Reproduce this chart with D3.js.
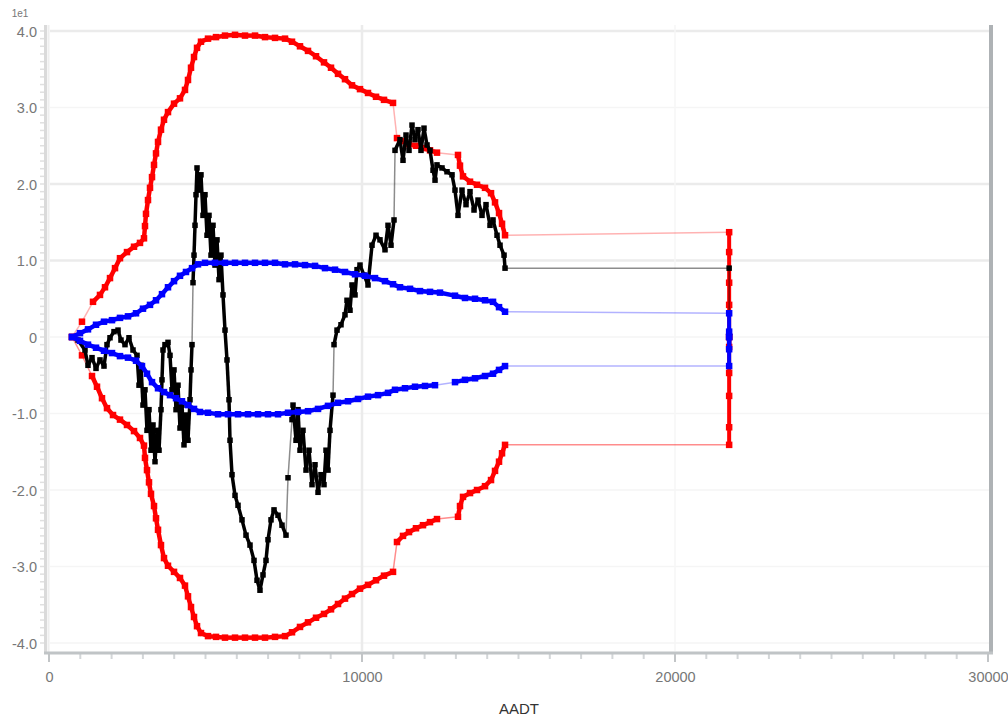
<!DOCTYPE html>
<html><head><meta charset="utf-8">
<script src="https://cdn.jsdelivr.net/npm/d3@7"></script>
<style>html,body{margin:0;padding:0;background:#fff;}svg{display:block;}</style>
</head><body>
<svg id="chart" width="1008" height="719"></svg>
<script>
// ---------- DATA (AADT, cumulative residual) ----------
const xTicks = [0, 10000, 20000, 30000];
const yTicks = [-4, -3, -2, -1, 0, 1, 2, 3, 4];
const yMultiplier = "1e1";
const xTitle = "AADT";

const redUpper = [[735,0],[1054,0.20],[1406,0.46],[1629,0.55],[1789,0.65],[1949,0.77],[2109,0.90],[2268,1.03],[2492,1.11],[2716,1.18],[2907,1.23],[3035,1.29],[3067,1.45],[3099,1.61],[3163,1.79],[3227,1.95],[3291,2.09],[3355,2.25],[3419,2.40],[3483,2.55],[3578,2.71],[3674,2.84],[3802,2.94],[3994,3.05],[4185,3.12],[4345,3.23],[4441,3.36],[4537,3.52],[4633,3.66],[4729,3.78],[4856,3.86],[5080,3.90],[5336,3.92],[5623,3.94],[5943,3.95],[6262,3.94],[6582,3.94],[6901,3.92],[7221,3.91],[7540,3.90],[7764,3.86],[8019,3.80],[8275,3.74],[8531,3.67],[8786,3.59],[9010,3.52],[9234,3.44],[9457,3.37],[9681,3.29],[9936,3.24],[10192,3.19],[10448,3.14],[10703,3.10],[10991,3.06],[11118,2.60],[11310,2.56],[11502,2.52],[11725,2.50],[11949,2.47],[12173,2.44],[12396,2.41],[13067,2.38],[13131,2.24],[13227,2.10],[13451,2.03],[13675,1.99],[13930,1.95],[14122,1.88],[14250,1.76],[14378,1.62],[14474,1.48],[14570,1.33],[21730,1.37],[21730,1.11],[21730,0.71],[21730,0.42],[21730,0]];

const redLower = [[735,0],[1054,-0.24],[1374,-0.51],[1534,-0.65],[1693,-0.80],[1853,-0.93],[2045,-1.02],[2268,-1.08],[2492,-1.15],[2716,-1.23],[2907,-1.32],[3035,-1.42],[3067,-1.58],[3131,-1.74],[3195,-1.90],[3259,-2.05],[3355,-2.21],[3419,-2.37],[3483,-2.52],[3578,-2.72],[3674,-2.89],[3802,-2.99],[3994,-3.07],[4185,-3.15],[4345,-3.25],[4441,-3.39],[4537,-3.53],[4633,-3.66],[4729,-3.78],[4856,-3.87],[5080,-3.91],[5336,-3.92],[5623,-3.93],[5943,-3.93],[6262,-3.93],[6582,-3.93],[6901,-3.93],[7221,-3.92],[7540,-3.91],[7764,-3.86],[8019,-3.79],[8275,-3.73],[8531,-3.67],[8786,-3.62],[9010,-3.56],[9234,-3.49],[9457,-3.42],[9681,-3.36],[9936,-3.29],[10192,-3.24],[10448,-3.18],[10703,-3.12],[10991,-3.07],[11118,-2.68],[11310,-2.60],[11502,-2.55],[11725,-2.50],[11949,-2.46],[12173,-2.42],[12396,-2.38],[13067,-2.35],[13131,-2.21],[13227,-2.09],[13451,-2.04],[13675,-2.00],[13930,-1.95],[14122,-1.87],[14250,-1.75],[14378,-1.63],[14474,-1.52],[14570,-1.41],[21730,-1.41],[21730,-1.18],[21730,-0.77],[21730,-0.47],[21730,-0.13],[21730,0]];

const blueUpper = [[735,0],[990,0.05],[1246,0.10],[1502,0.16],[1757,0.20],[2013,0.22],[2268,0.25],[2524,0.27],[2780,0.31],[3003,0.37],[3227,0.42],[3419,0.48],[3610,0.56],[3802,0.65],[3994,0.73],[4185,0.80],[4377,0.85],[4569,0.90],[4761,0.95],[4984,0.97],[5304,0.97],[5623,0.97],[5943,0.97],[6262,0.97],[6582,0.97],[6901,0.97],[7221,0.97],[7540,0.95],[7860,0.95],[8179,0.94],[8499,0.93],[8818,0.90],[9138,0.88],[9457,0.85],[9777,0.82],[10096,0.80],[10416,0.77],[10735,0.73],[10991,0.69],[11214,0.65],[11534,0.63],[11853,0.60],[12173,0.59],[12492,0.58],[12971,0.54],[13291,0.51],[13611,0.50],[13930,0.48],[14186,0.46],[14378,0.39],[14570,0.33],[21730,0.31],[21730,0.07],[21730,0]];

const blueLower = [[735,0],[990,-0.05],[1246,-0.10],[1502,-0.14],[1757,-0.18],[2013,-0.21],[2268,-0.25],[2524,-0.27],[2780,-0.31],[2971,-0.38],[3131,-0.48],[3291,-0.59],[3483,-0.67],[3674,-0.72],[3866,-0.76],[4058,-0.80],[4249,-0.84],[4441,-0.89],[4633,-0.94],[4824,-0.98],[5080,-0.99],[5400,-1.01],[5719,-1.01],[6039,-1.01],[6358,-1.01],[6678,-1.01],[6997,-1.01],[7317,-1.01],[7636,-0.99],[7956,-0.98],[8275,-0.97],[8595,-0.94],[8914,-0.90],[9234,-0.86],[9553,-0.84],[9873,-0.81],[10192,-0.78],[10512,-0.76],[10831,-0.73],[11055,-0.69],[11374,-0.67],[11693,-0.65],[12013,-0.64],[12332,-0.63],[12971,-0.59],[13291,-0.56],[13611,-0.54],[13930,-0.51],[14186,-0.48],[14378,-0.43],[14570,-0.38],[21730,-0.38],[21730,-0.16],[21730,0]];

const cumResidual = [[735,0],[927,-0.04],[1150,-0.17],[1246,-0.37],[1374,-0.27],[1502,-0.41],[1629,-0.30],[1757,-0.38],[1853,-0.10],[1949,-0.01],[2077,0.07],[2205,0.09],[2300,-0.04],[2428,-0.10],[2556,-0.01],[2684,-0.17],
[2812,-0.24],[2876,-0.63],[2939,-0.37],[3003,-0.89],[3067,-0.69],[3131,-1.22],[3195,-0.95],[3259,-1.48],[3323,-1.15],[3387,-1.63],[3451,-1.22],[3515,-1.48],[3578,-0.95],[3610,-0.56],[3642,-0.17],
[3706,-0.10],[3802,-0.07],[3866,-0.24],[3930,-0.69],[3994,-0.43],[4058,-0.95],[4122,-0.63],[4185,-1.19],[4249,-0.89],[4313,-1.41],[4377,-1.02],[4441,-1.35],[4505,-0.82],[4537,-0.43],[4569,-0.10],
[4601,0.71],[4633,1.07],[4665,1.46],[4697,1.86],[4729,2.21],[4793,1.92],[4856,2.12],[4920,1.59],[4984,1.86],[5048,1.33],[5112,1.59],[5176,1.07],[5240,1.46],[5304,0.94],[5368,1.27],[5432,0.75],[5495,1.07],[5559,0.55],[5623,0.09],[5687,-0.30],[5751,-0.82],[5783,-1.35],
[5847,-1.80],[5943,-2.07],[6039,-2.20],[6166,-2.39],[6294,-2.59],[6422,-2.72],[6550,-2.92],[6646,-3.18],[6741,-3.31],[6837,-3.11],[6933,-2.92],[6997,-2.65],[7093,-2.39],[7189,-2.26],[7317,-2.33],[7444,-2.46],[7572,-2.59],
[7636,-1.84],[7764,-1.08],[7796,-0.89],[7892,-1.35],[7956,-0.95],[8019,-1.48],[8115,-1.22],[8211,-1.74],[8307,-1.48],[8403,-1.93],[8499,-1.67],[8595,-2.03],[8690,-1.80],[8786,-1.93],[8850,-1.48],[8914,-1.74],[8978,-1.22],[9074,-0.76],
[9106,-0.10],[9202,0.09],[9329,0.16],[9457,0.29],[9521,0.48],[9617,0.35],[9681,0.68],[9777,0.55],[9841,0.88],[9936,0.94],[10064,0.81],[10192,0.68],[10320,1.20],[10448,1.33],[10575,1.27],[10735,1.14],[10831,1.46],[10927,1.20],[11023,1.53],
[11055,2.44],[11214,2.58],[11310,2.31],[11406,2.64],[11502,2.44],[11598,2.77],[11693,2.58],[11789,2.71],[11885,2.44],[11981,2.73],[12077,2.51],[12173,2.44],[12269,2.18],[12333,2.05],[12396,2.25],[12556,2.21],[12716,2.16],[12876,2.12],[12971,1.92],[13067,1.59],[13195,1.92],[13323,1.73],[13451,1.90],[13579,1.66],[13707,1.79],[13834,1.59],[13962,1.73],[14090,1.46],[14186,1.53],[14314,1.33],[14410,1.20],[14538,1.07],[14570,0.90],[21730,0.90],[21730,0]];

// ---------- DRAW ----------
const svg = d3.select("#chart");
const x = d3.scaleLinear().domain([0, 30000]).range([49, 988]);
const y = d3.scaleLinear().domain([-4, 4]).range([643, 31]);
const plotLeft = 44, plotRight = 991, plotTop = 25, plotBottom = 653;

// gridlines
const strongY = new Set([4, 2, 1]);
svg.append("g").selectAll("line").data(yTicks).join("line")
  .attr("x1", 50).attr("x2", plotRight - 2)
  .attr("y1", d => y(d)).attr("y2", d => y(d))
  .attr("stroke", d => strongY.has(d) ? "#ebebeb" : "#f5f5f5")
  .attr("stroke-width", d => strongY.has(d) ? 2.5 : 1.5);
svg.append("g").selectAll("line").data(xTicks.filter(d => d > 0 && d < 30000)).join("line")
  .attr("x1", d => x(d)).attr("x2", d => x(d))
  .attr("y1", plotTop).attr("y2", plotBottom - 2)
  .attr("stroke", d => d === 10000 ? "#ebebeb" : "#f6f6f6")
  .attr("stroke-width", d => d === 10000 ? 2.5 : 1.5);

// axes frame
svg.append("line").attr("x1", 45.5).attr("x2", 45.5).attr("y1", plotTop).attr("y2", plotBottom)
  .attr("stroke", "#dadada").attr("stroke-width", 3);
svg.append("line").attr("x1", 48.5).attr("x2", 48.5).attr("y1", plotTop).attr("y2", plotBottom)
  .attr("stroke", "#eeeeee").attr("stroke-width", 2);
svg.append("line").attr("x1", plotRight).attr("x2", plotRight).attr("y1", plotTop).attr("y2", plotBottom + 1)
  .attr("stroke", "#aeb2b5").attr("stroke-width", 4);

// x axis
const xAxis = d3.axisBottom(x).tickValues(xTicks).tickSize(0).tickPadding(0)
  .tickFormat(d3.format("d"));
const gx = svg.append("g").attr("transform", `translate(0,${plotBottom})`).call(xAxis);
gx.select(".domain").remove();
gx.selectAll("text").attr("y", 29).attr("dy", 0)
  .attr("font-family", "Liberation Sans, Arial, sans-serif").attr("font-size", 14.5)
  .attr("fill", "#777");
const xMinor = d3.range(0, 30001, 1000);
svg.append("g").selectAll("line").data(xMinor).join("line")
  .attr("x1", d => x(d)).attr("x2", d => x(d))
  .attr("y1", plotBottom).attr("y2", d => d % 10000 === 0 ? plotBottom + 9 : plotBottom + 6)
  .attr("stroke", d => d % 10000 === 0 ? "#c2c5c7" : "#d3d6d8").attr("stroke-width", 2);
svg.append("line").attr("x1", plotLeft).attr("x2", plotRight + 2).attr("y1", plotBottom).attr("y2", plotBottom)
  .attr("stroke", "#c0c4c6").attr("stroke-width", 3);

// y axis
const yAxis = d3.axisLeft(y).tickValues(yTicks).tickSize(0).tickPadding(0)
  .tickFormat(d => d === 0 ? "0" : d.toFixed(1));
const gy = svg.append("g").attr("transform", `translate(37,0)`).call(yAxis);
gy.select(".domain").remove();
gy.selectAll("text").attr("font-family", "Liberation Sans, Arial, sans-serif")
  .attr("font-size", 14.5).attr("fill", "#777").attr("dy", "0.35em");
const yMinor = d3.range(-40, 41).map(d => d / 10);
svg.append("g").selectAll("line").data(yMinor).join("line")
  .attr("x1", 40).attr("x2", 44)
  .attr("y1", d => y(d)).attr("y2", d => y(d))
  .attr("stroke", "#e0e0e0").attr("stroke-width", 1.5);

svg.append("text").attr("x", 20).attr("y", 17).attr("text-anchor", "middle")
  .attr("font-family", "Liberation Sans, Arial, sans-serif").attr("font-size", 10)
  .attr("fill", "#777").text(yMultiplier);
svg.append("text").attr("x", 519).attr("y", 714).attr("text-anchor", "middle")
  .attr("font-family", "Liberation Sans, Arial, sans-serif").attr("font-size", 15)
  .attr("fill", "#333").text(xTitle);

// series: dense runs of sites read as a thick band, long gaps as a thin faint line
const line = d3.line().x(d => x(d[0])).y(d => y(d[1]));
function series(data, color, opts) {
  const g = svg.append("g");
  const segs = d3.pairs(data).map(([a, b]) => {
    const x1 = x(a[0]), y1 = y(a[1]), x2 = x(b[0]), y2 = y(b[1]);
    return {x1, y1, x2, y2, len: Math.hypot(x2 - x1, y2 - y1)};
  });
  g.selectAll("line.thin").data(segs.filter(s => s.len >= opts.gap)).join("line")
    .attr("x1", s => s.x1).attr("y1", s => s.y1).attr("x2", s => s.x2).attr("y2", s => s.y2)
    .attr("stroke", color).attr("stroke-width", 1.5).attr("stroke-opacity", opts.thinOpacity);
  g.selectAll("line.thick").data(segs.filter(s => s.len < opts.gap)).join("line")
    .attr("x1", s => s.x1).attr("y1", s => s.y1).attr("x2", s => s.x2).attr("y2", s => s.y2)
    .attr("stroke", color).attr("stroke-width", opts.thick).attr("stroke-linecap", "square");
  g.selectAll("rect").data(data).join("rect")
    .attr("x", d => x(d[0]) - opts.ms / 2).attr("y", d => y(d[1]) - opts.ms / 2)
    .attr("width", opts.ms).attr("height", opts.ms).attr("fill", color);
}
const boundStyle = {gap: 16, thick: 4.5, ms: 6.5};
series(redUpper, "#ff0000", {...boundStyle, thinOpacity: 0.3});
series(redLower, "#ff0000", {...boundStyle, thinOpacity: 0.45});
// final vertical red segment (many sites at the same AADT)
svg.append("path").datum([redUpper[redUpper.length - 5], redLower[redLower.length - 6]])
  .attr("d", line).attr("stroke", "#ff0000").attr("stroke-width", 4).attr("fill", "none");
series(cumResidual, "#000000", {gap: 45, thick: 3.5, ms: 5.5, thinOpacity: 0.45});
series(blueUpper, "#0000ff", {...boundStyle, thinOpacity: 0.3});
series(blueLower, "#0000ff", {...boundStyle, thinOpacity: 0.3});
svg.append("path").datum([blueUpper[blueUpper.length - 3], blueLower[blueLower.length - 3]])
  .attr("d", line).attr("stroke", "#0000ff").attr("stroke-width", 4).attr("fill", "none");
</script>
</body></html>
